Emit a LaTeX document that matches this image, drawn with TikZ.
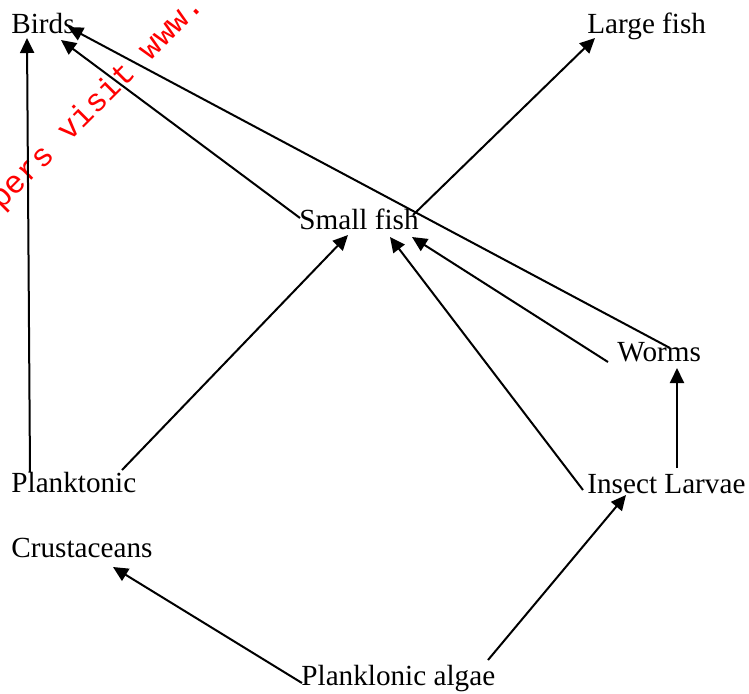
\documentclass[tikz,border=0pt]{standalone}
\usepackage{fontspec}
\setmainfont{Liberation Serif}
\setmonofont{Liberation Mono}
\usetikzlibrary{arrows.meta,calc}
\begin{document}
\begin{tikzpicture}[x=0.5pt,y=-0.5pt,
  lbl/.style={anchor=base west,inner sep=0pt,font=\fontsize{14.6}{17}\selectfont},
  arr/.style={line width=1pt,-{Triangle[length=7.5pt,width=7pt]}},
  wm/.style={anchor=base west,inner sep=0pt,text=red,rotate=45,font=\ttfamily\fontsize{16}{18}\selectfont}]
\useasboundingbox (0,0) rectangle (749,693);
\begin{scope}
\clip (0,0) rectangle (749,693);
\node[wm] (wmark) at (1,211) {pers visit www.};
\end{scope}
\node[lbl] (birds) at (11,33) {Birds};
\node[lbl] (large) at (587,33) {Large fish};
\node[lbl] (small) at (299,229) {Small fish};
\node[lbl] (worms) at (617,361) {Worms};
\node[lbl] (plank) at (11,492) {Planktonic};
\node[lbl] (insect) at (587,493) {Insect Larvae};
\node[lbl] (crust) at (11,557) {Crustaceans};
\node[lbl] (algae) at (301,685) {Planklonic algae};
\draw[arr] ($(plank.base west)+(19,-20)$) -- ($(birds.base west)+(16,5)$);
\draw[arr] ($(small.base west)+(1,-11)$) -- ($(birds.base west)+(50,7)$);
\draw[arr] ($(worms.base west)+(53,-13)$) -- ($(birds.base west)+(57,-6)$);
\draw[arr] ($(small.base west)+(114,-14)$) -- ($(large.base west)+(8,5)$);
\draw[arr] ($(plank.base west)+(111,-22)$) -- ($(small.base west)+(49,6)$);
\draw[arr] ($(insect.base west)+(-4,-3)$) -- ($(small.base west)+(91,8)$);
\draw[arr] ($(worms.base west)+(-9,1)$) -- ($(small.base west)+(113,8)$);
\draw[arr] ($(insect.base west)+(90,-25)$) -- ($(worms.base west)+(60,7)$);
\draw[arr] ($(algae.base west)+(187,-25)$) -- ($(insect.base west)+(39,2)$);
\draw[arr] ($(algae.base west)+(1,-2)$) -- ($(crust.base west)+(102,10)$);
\end{tikzpicture}
\end{document}
